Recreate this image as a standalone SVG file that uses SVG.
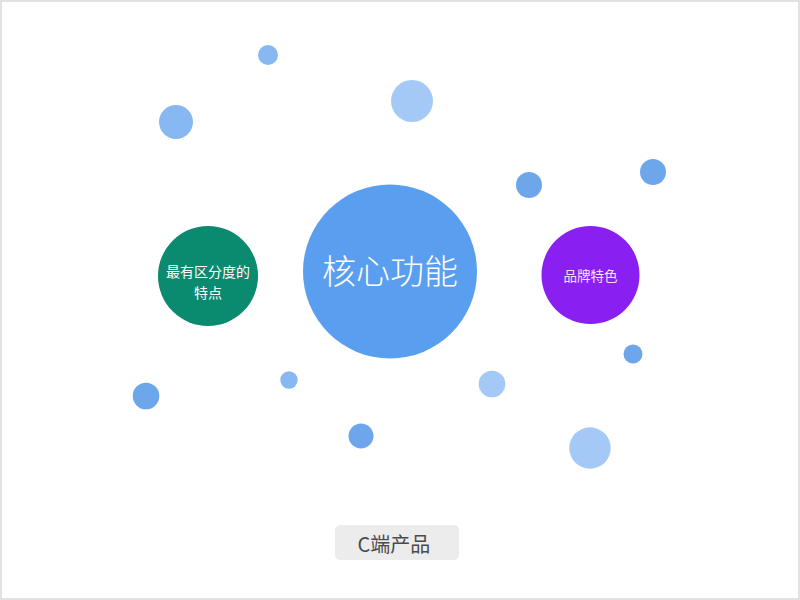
<svg xmlns="http://www.w3.org/2000/svg" width="800" height="600" viewBox="0 0 800 600">
  <style>
    text { font-family: "Noto Sans CJK SC", "Noto Sans", sans-serif; text-anchor: middle; dominant-baseline: central; }
    .dot1 { fill: #6ea6ec; }
    .dot2 { fill: #87b8f1; }
    .dot3 { fill: #a5c9f6; }
    .white { fill: #ffffff; }
  </style>
  <rect x="0" y="0" width="800" height="600" fill="#ffffff"/>
  <rect x="1" y="1" width="798" height="598" fill="none" stroke="#e2e2e2" stroke-width="2"/>

  <g id="decor">
    <circle class="dot2" cx="268" cy="55" r="10"/>
    <circle class="dot2" cx="176" cy="122" r="17"/>
    <circle class="dot3" cx="412" cy="101" r="21"/>
    <circle class="dot1" cx="529" cy="185" r="13"/>
    <circle class="dot1" cx="653" cy="172" r="13"/>
    <circle class="dot1" cx="633" cy="354" r="9.5"/>
    <circle class="dot2" cx="289" cy="380" r="8.7"/>
    <circle class="dot1" cx="146" cy="396" r="13.3"/>
    <circle class="dot3" cx="492" cy="384" r="13.3"/>
    <circle class="dot1" cx="361" cy="436" r="12.5"/>
    <circle class="dot3" cx="590" cy="448" r="20.7"/>
  </g>

  <g id="connectors"></g>

  <g id="node-core">
    <circle cx="390" cy="271.5" r="87" fill="#5a9ef0"/>
    <text x="390" y="269" font-size="34" font-weight="300" class="white">核心功能</text>
  </g>

  <g id="node-distinct">
    <circle cx="208" cy="276" r="50" fill="#0a8a6e"/>
    <text x="208" y="271" font-size="14" class="white">最有区分度的</text>
    <text x="208" y="292" font-size="14" class="white">特点</text>
  </g>

  <g id="node-brand">
    <circle cx="590.5" cy="275" r="49" fill="#8a1ff2"/>
    <text x="590.5" y="275" font-size="13.5" fill="#f6e6fb">品牌特色</text>
  </g>

  <g id="node-label">
    <rect x="335" y="525" width="124" height="35" rx="5" fill="#ececec"/>
    <text x="394" y="543" font-size="20" fill="#4a4a4a">C端产品</text>
  </g>
</svg>
